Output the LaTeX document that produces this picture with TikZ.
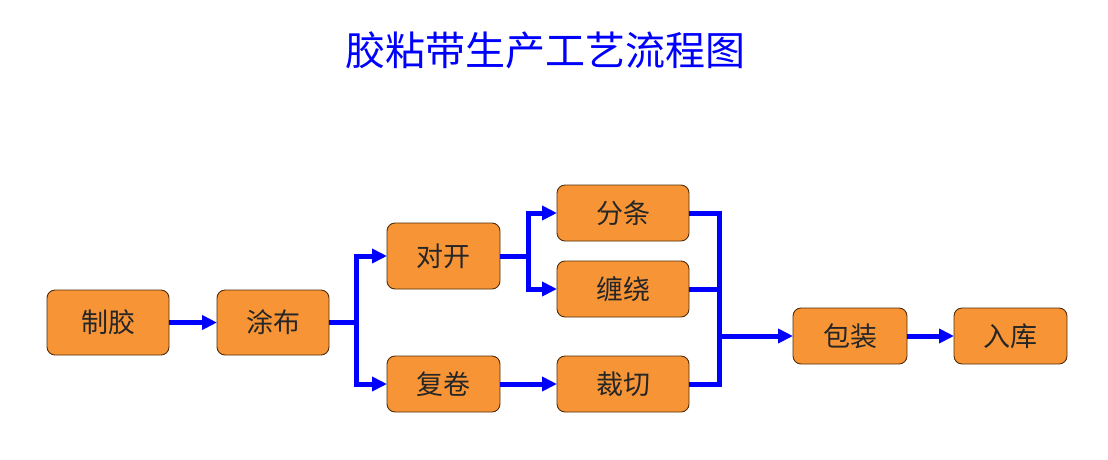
\documentclass[tikz,border=0pt]{standalone}
\usepackage{fontspec}
\newfontfamily\cjk{Noto Sans CJK SC}
\usetikzlibrary{arrows.meta,positioning}

\definecolor{boxfill}{RGB}{247,149,54}
\definecolor{boxline}{RGB}{80,45,10}
\definecolor{flowblue}{RGB}{0,0,255}

\begin{document}
\begin{tikzpicture}[
  x=1pt, y=-1pt,
  stepbox/.style={draw=boxline, line width=0.9pt, fill=boxfill, rounded corners=8pt,
    minimum width=113pt, minimum height=56pt, inner sep=0pt, outer sep=0pt,
    font=\cjk\fontsize{27}{30}\selectfont, text=black!85},
  wide/.style={stepbox, minimum width=132pt},
  link/.style={draw=flowblue, line width=5pt},
  arrow/.style={link, -{Triangle[length=15pt, width=14pt]}},
  title/.style={font=\cjk\fontsize{40}{44}\selectfont, text=flowblue},
]
  \useasboundingbox (0,0) rectangle (1108,459);

  \node[title] (ttl) at (545,50) {胶粘带生产工艺流程图};

  \node[stepbox, minimum width=122pt, minimum height=65pt] (zhijiao) at (108,322.5) {制胶};
  \node[stepbox, minimum width=112pt, minimum height=65pt, right=48pt of zhijiao] (tubu) {涂布};
  \node[stepbox, minimum height=66pt, right=58pt of tubu, yshift=66.5pt] (duikai) {对开};
  \node[stepbox, below=67pt of duikai] (fujuan) {复卷};
  \node[wide, right=57pt of duikai, yshift=43pt] (fentiao) {分条};
  \node[wide, below=20pt of fentiao] (chanrao) {缠绕};
  \node[wide, right=57pt of fujuan] (caiqie) {裁切};
  \node[stepbox, minimum width=114pt, right=104pt of caiqie, yshift=48pt] (baozhuang) {包装};
  \node[stepbox, right=47pt of baozhuang] (ruku) {入库};

  \draw[arrow] (zhijiao) -- (tubu);

  % split after coating
  \draw[link] (tubu.east) -- ++(27,0) coordinate (s1);
  \draw[arrow] (s1) |- (duikai.west);
  \draw[arrow] (s1) |- (fujuan.west);

  % split after halving
  \draw[link] (duikai.east) -- ++(28,0) coordinate (s2);
  \draw[arrow] (s2) |- (fentiao.west);
  \draw[arrow] (s2) |- (chanrao.west);

  \draw[arrow] (fujuan) -- (caiqie);

  % merge into packing
  \coordinate (m) at ([xshift=30pt]fentiao.east);
  \draw[link] (fentiao.east) -- (m) |- (caiqie.east);
  \draw[link] (chanrao.east) -- (chanrao.east -| m);
  \draw[arrow] (m |- baozhuang.west) -- (baozhuang.west);

  \draw[arrow] (baozhuang) -- (ruku);
\end{tikzpicture}
\end{document}
